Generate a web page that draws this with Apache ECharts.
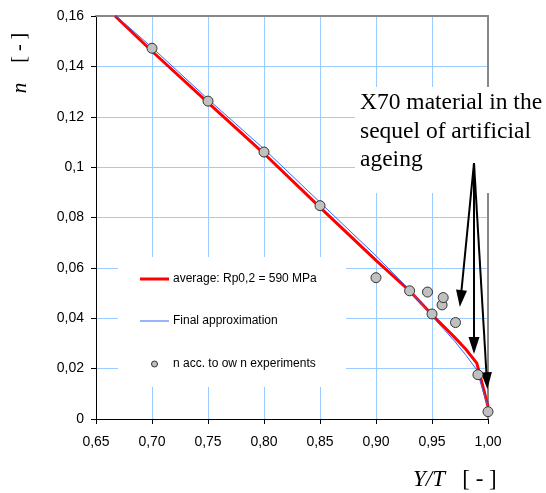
<!DOCTYPE html>
<html>
<head>
<meta charset="utf-8">
<script src="https://cdn.jsdelivr.net/npm/echarts@6/dist/echarts.min.js"></script>
<style>
  html, body { margin: 0; padding: 0; background: #fff; }
  #chart { width: 546px; height: 493px; }
</style>
</head>
<body>
<div id="chart"></div>
<script>
// tick labels (comma decimal)
const xTickLabels = ['0,65', '0,70', '0,75', '0,80', '0,85', '0,90', '0,95', '1,00']
const yTickLabels = ['0', '0,02', '0,04', '0,06', '0,08', '0,1', '0,12', '0,14', '0,16']

// average: Rp0,2 = 590 MPa
const avgX = [0.667, 0.70, 0.75, 0.80, 0.85, 0.90, 0.93, 0.95, 0.97, 0.98, 0.99, 0.996, 1.00]
const avgY = [0.160, 0.1460, 0.1256, 0.1054, 0.0840, 0.0630, 0.0509, 0.0414, 0.0325, 0.0278, 0.0222, 0.0120, 0.0050]

// Final approximation
const finX = [0.668, 0.70, 0.75, 0.80, 0.85, 0.87, 0.90, 0.93, 0.95, 0.97, 0.98, 0.99, 0.996, 1.00]
const finY = [0.160, 0.1475, 0.1270, 0.1072, 0.0860, 0.0775, 0.0648, 0.0512, 0.0408, 0.0310, 0.0255, 0.0195, 0.0105, 0.0050]

// n acc. to own experiments
const expX = [0.700, 0.750, 0.800, 0.850, 0.900, 0.930, 0.946, 0.950, 0.959, 0.960, 0.971, 0.991, 1.000]
const expY = [0.1472, 0.1262, 0.1060, 0.0847, 0.0561, 0.0509, 0.0504, 0.0417, 0.0453, 0.0482, 0.0383, 0.0176, 0.0029]

// annotation arrows: one start, three heads
const arrowStart = [0.9875, 0.1016]
const arrowEnds = [[0.9756, 0.0478], [0.9875, 0.0292], [0.9990, 0.0152]]

const zip = (xs, ys) => xs.map((x, i) => [x, ys[i]])

const chart = echarts.init(document.getElementById('chart'))

const sans = 'Liberation Sans, Arial, sans-serif'
const serif = 'Liberation Serif, Times New Roman, serif'

// top / right frame drawn as extra axes so it sits over the grid lines
const frameAxis = {
  axisLine: { show: true, onZero: false, lineStyle: { color: '#888', width: 2 } },
  axisTick: { show: false },
  axisLabel: { show: false },
  splitLine: { show: false }
}

const option = {
  animation: false,
  grid: {
    left: 96,
    right: 58,
    top: 16,
    bottom: 74
  },
  xAxis: [
    {
      type: 'value',
      min: 0.65,
      max: 1.0,
      interval: 0.05,
      axisLine: { show: true, lineStyle: { color: '#000', width: 1 } },
      axisTick: { show: true, length: 5, lineStyle: { color: '#000' } },
      splitLine: { show: true, lineStyle: { color: '#9ccbff', width: 1 } },
      axisLabel: {
        fontFamily: sans,
        fontSize: 14,
        color: '#000',
        margin: 16,
        formatter: (v) => xTickLabels[Math.round((v - 0.65) / 0.05)]
      }
    },
    Object.assign({ type: 'value', position: 'top', min: 0.65, max: 1.0, interval: 0.05 }, frameAxis)
  ],
  yAxis: [
    {
      type: 'value',
      min: 0,
      max: 0.16,
      interval: 0.02,
      axisLine: { show: true, lineStyle: { color: '#000', width: 1 } },
      axisTick: { show: true, length: 5, lineStyle: { color: '#000' } },
      splitLine: { show: true, lineStyle: { color: '#9ccbff', width: 1 } },
      axisLabel: {
        fontFamily: sans,
        fontSize: 14,
        color: '#000',
        margin: 12,
        formatter: (v) => yTickLabels[Math.round(v / 0.02)]
      }
    },
    Object.assign({ type: 'value', position: 'right', min: 0, max: 0.16, interval: 0.02 }, frameAxis)
  ],
  graphic: [
    // white boxes behind legend and note (hide the grid)
    { type: 'rect', z: 1, shape: { x: 118, y: 257, width: 228, height: 130 }, style: { fill: '#fff' } },
    { type: 'rect', z: 1, shape: { x: 355, y: 87, width: 191, height: 106 }, style: { fill: '#fff' } },
    // legend
    { type: 'line', z: 10, shape: { x1: 140, y1: 279, x2: 169, y2: 279 }, style: { stroke: '#ff0000', lineWidth: 3 } },
    { type: 'text', z: 10, x: 173, y: 279, style: { text: 'average: Rp0,2 = 590 MPa', font: '12px ' + sans, fill: '#000', verticalAlign: 'middle' } },
    { type: 'line', z: 10, shape: { x1: 140, y1: 321, x2: 169, y2: 321 }, style: { stroke: '#3366ff', lineWidth: 1 } },
    { type: 'text', z: 10, x: 173, y: 321, style: { text: 'Final approximation', font: '12px ' + sans, fill: '#000', verticalAlign: 'middle' } },
    { type: 'circle', z: 10, shape: { cx: 154.5, cy: 364, r: 3 }, style: { fill: '#c0c0c0', stroke: '#333', lineWidth: 1 } },
    { type: 'text', z: 10, x: 173, y: 364, style: { text: 'n acc. to ow n experiments', font: '12px ' + sans, fill: '#000', verticalAlign: 'middle' } },
    // note
    {
      type: 'text', z: 10, x: 360, y: 89,
      style: {
        text: 'X70 material in the\nsequel of artificial\nageing',
        font: '23.5px ' + serif,
        lineHeight: 28.5,
        fill: '#000'
      }
    },
    // axis titles
    {
      type: 'text', z: 10, x: 413, y: 480,
      style: {
        text: '{i|Y/T}{n|   [ - ]}',
        verticalAlign: 'middle',
        rich: {
          i: { fontFamily: serif, fontSize: 23, fontStyle: 'italic', fill: '#000' },
          n: { fontFamily: serif, fontSize: 23, fill: '#000' }
        }
      }
    },
    {
      type: 'text', z: 10, x: 20, y: 63, rotation: Math.PI / 2,
      style: {
        text: '{i|n}{n|    [ - ]}',
        align: 'center',
        verticalAlign: 'middle',
        rich: {
          i: { fontFamily: serif, fontSize: 21, fontStyle: 'italic', fill: '#000' },
          n: { fontFamily: serif, fontSize: 20, fill: '#000' }
        }
      }
    }
  ],
  series: [
    {
      name: 'average: Rp0,2 = 590 MPa',
      type: 'line',
      data: zip(avgX, avgY),
      symbol: 'none',
      lineStyle: { color: '#ff0000', width: 3 },
      z: 3
    },
    {
      name: 'Final approximation',
      type: 'line',
      data: zip(finX, finY),
      symbol: 'none',
      lineStyle: { color: '#3366ff', width: 1 },
      z: 4
    },
    {
      name: 'n acc. to own experiments',
      type: 'scatter',
      data: zip(expX, expY),
      symbol: 'circle',
      symbolSize: 10,
      itemStyle: { color: '#c0c0c0', borderColor: '#333', borderWidth: 1, opacity: 1 },
      z: 5,
      markLine: {
        silent: true,
        symbol: ['none', 'triangle'],
        symbolSize: 12,
        label: { show: false },
        lineStyle: { color: '#000', width: 2, type: 'solid' },
        itemStyle: { color: '#000' },
        data: arrowEnds.map((e) => [
          { coord: arrowStart, symbol: 'none' },
          { coord: e, symbol: 'triangle', symbolSize: [11, 17] }
        ])
      }
    }
  ]
}

chart.setOption(option)
</script>
</body>
</html>
